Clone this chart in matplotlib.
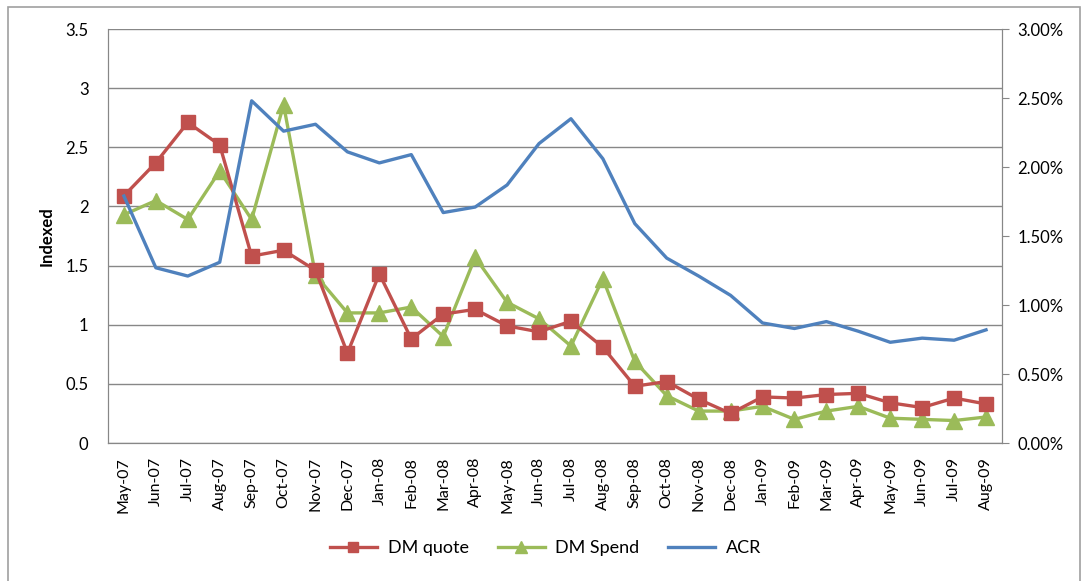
import numpy as np
import matplotlib.pyplot as plt
from matplotlib.ticker import FuncFormatter

months = ["May-07", "Jun-07", "Jul-07", "Aug-07", "Sep-07", "Oct-07", "Nov-07",
          "Dec-07", "Jan-08", "Feb-08", "Mar-08", "Apr-08", "May-08", "Jun-08",
          "Jul-08", "Aug-08", "Sep-08", "Oct-08", "Nov-08", "Dec-08", "Jan-09",
          "Feb-09", "Mar-09", "Apr-09", "May-09", "Jun-09", "Jul-09", "Aug-09"]

dm_quote = [2.09, 2.37, 2.71, 2.52, 1.58, 1.63, 1.46, 0.76, 1.43, 0.88, 1.09,
            1.13, 0.99, 0.94, 1.03, 0.81, 0.48, 0.52, 0.37, 0.25, 0.39,
            0.38, 0.41, 0.42, 0.34, 0.30, 0.38, 0.33]

dm_spend = [1.93, 2.05, 1.89, 2.30, 1.89, 2.86, 1.42, 1.10, 1.10, 1.15, 0.90,
            1.57, 1.19, 1.05, 0.82, 1.39, 0.69, 0.40, 0.27, 0.27, 0.31,
            0.20, 0.27, 0.31, 0.21, 0.20, 0.19, 0.22]

# ACR en %
acr = [1.79, 1.27, 1.21, 1.31, 2.48, 2.26, 2.31, 2.11, 2.03, 2.09, 1.67,
       1.71, 1.87, 2.17, 2.35, 2.06, 1.59, 1.34, 1.21, 1.07, 0.87,
       0.83, 0.88, 0.81, 0.73, 0.76, 0.745, 0.82]

RED = "#C0504D"
GREEN = "#9BBB59"
BLUE = "#4F81BD"
GRID = "#878787"

plt.rcParams['font.family'] = ['Lato', 'DejaVu Sans']

fig = plt.figure(figsize=(10.85, 5.81), dpi=100)
# cadre gris autour du graphique
fig.patches.append(plt.Rectangle((8 / 1085, -0.01), 1072 / 1085, 1.01 - 7 / 581,
                                 transform=fig.transFigure, fill=False,
                                 edgecolor="#A0A0A0", lw=1.2))
ax = fig.add_axes([0.0995, 0.2375, 0.824, 0.7125])
ax2 = ax.twinx()

x = np.arange(len(months))

l1, = ax.plot(x, dm_quote, color=RED, lw=2.4, marker="s", ms=10,
              markeredgecolor=RED, label="DM quote", zorder=3)
l2, = ax.plot(x, dm_spend, color=GREEN, lw=2.4, marker="^", ms=11,
              markeredgecolor=GREEN, label="DM Spend", zorder=2)
l3, = ax2.plot(x, acr, color=BLUE, lw=2.4, label="ACR")

ax.set_xlim(-0.5, len(months) - 0.5)
ax.set_ylim(0, 3.5)
ax.set_yticks(np.arange(0, 3.51, 0.5))
ax.set_yticklabels(["0", "0.5", "1", "1.5", "2", "2.5", "3", "3.5"])
ax.yaxis.grid(True, color=GRID, lw=1)
ax.set_axisbelow(True)

ax2.set_ylim(0, 3.0)
ax2.set_yticks(np.arange(0, 3.01, 0.5))
ax2.yaxis.set_major_formatter(FuncFormatter(lambda v, p: f"{v:.2f}%"))

ax.set_xticks(x)
ax.set_xticklabels(months, rotation=90)
ax.tick_params(axis="x", length=0, pad=10, labelsize=11.5)
ax.tick_params(axis="y", length=0, pad=14, labelsize=12)
ax2.tick_params(axis="y", length=5, color=GRID, pad=6, labelsize=12)

for a in (ax, ax2):
    for s in a.spines.values():
        s.set_color(GRID)
    a.spines["top"].set_visible(False)

ax.set_ylabel("Indexed", fontsize=12, fontweight="bold", labelpad=8)

leg = fig.legend(handles=[l1, l2, l3], loc="center", bbox_to_anchor=(0.503, 0.057),
                 ncol=3, frameon=False, fontsize=13, handlelength=2.6,
                 columnspacing=1.6, handletextpad=0.6, markerscale=0.75)

fig.savefig("out.png", dpi=100)
